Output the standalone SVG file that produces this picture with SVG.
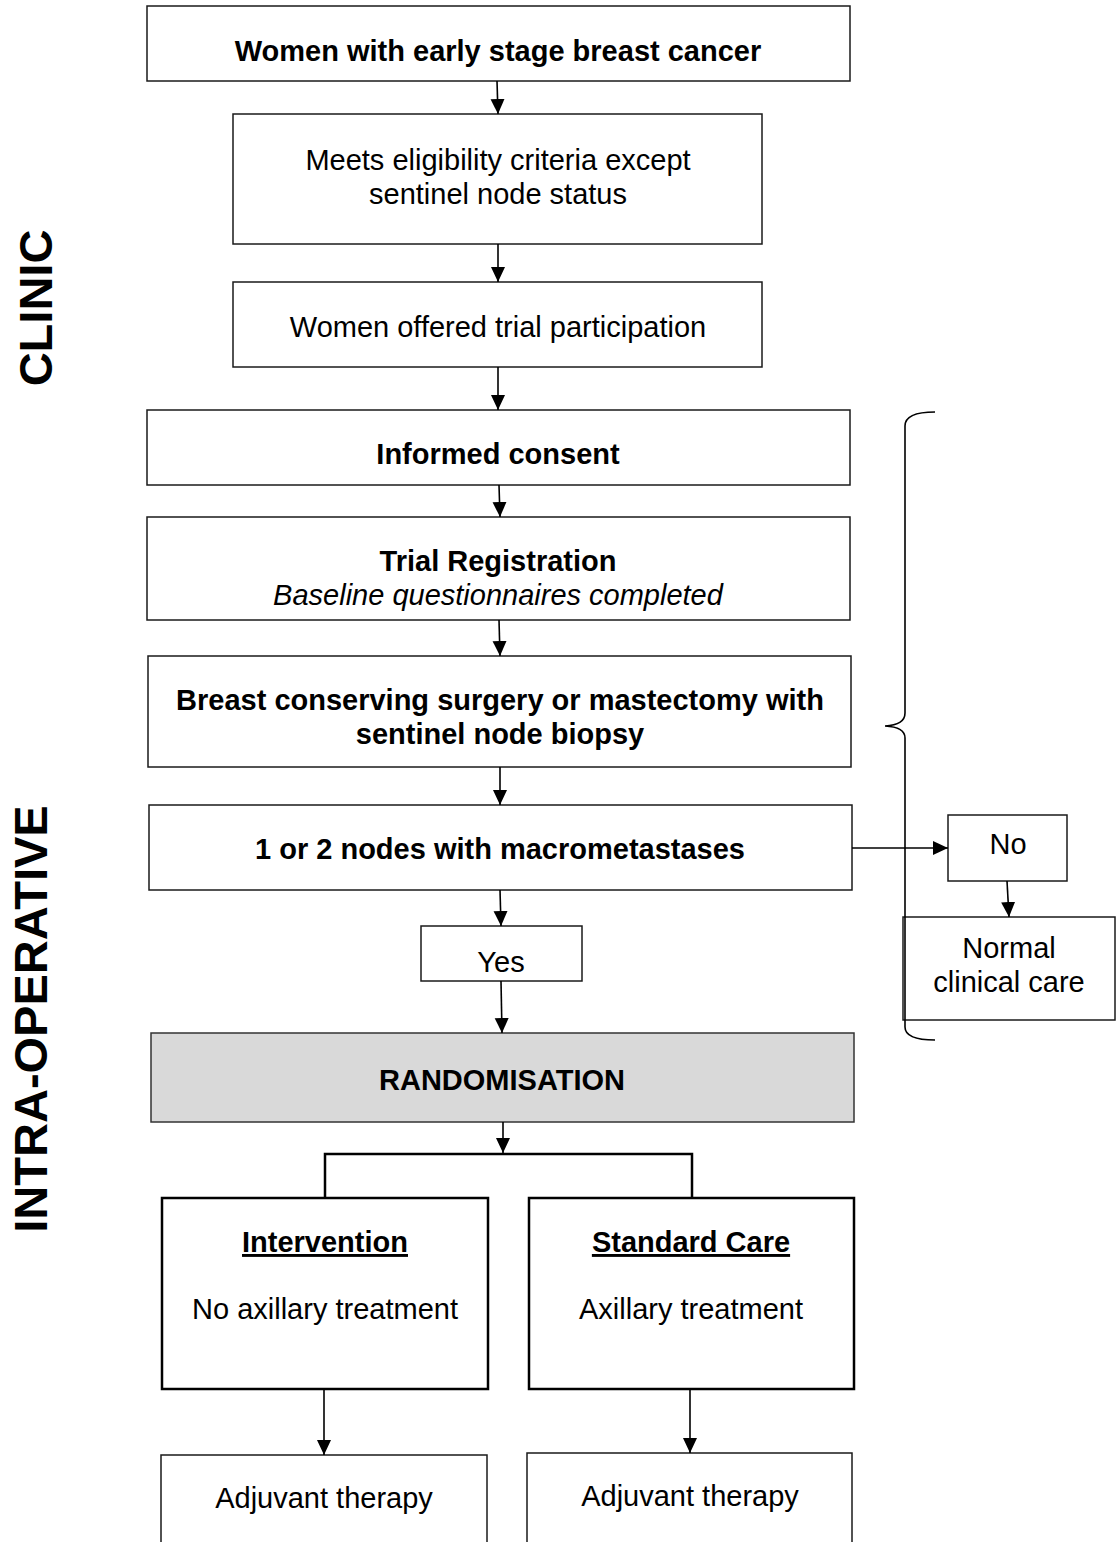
<svg xmlns="http://www.w3.org/2000/svg" width="1116" height="1542" viewBox="0 0 1116 1542">
<style>
  .box { fill: #ffffff; stroke: #1a1a1a; stroke-width: 1.5; }
  .thick { fill: #ffffff; stroke: #000000; stroke-width: 2.5; }
  .grey { fill: #d9d9d9; stroke: #333333; stroke-width: 1.5; }
  .t { font-family: "Liberation Sans", Arial, sans-serif; font-size: 29px; fill: #000000; text-anchor: middle; }
  .b { font-weight: bold; }
  .i { font-style: italic; }
  .u { text-decoration: underline; }
  .side { font-family: "Liberation Sans", Arial, sans-serif; font-size: 47px; font-weight: bold; fill: #000000; text-anchor: middle; }
  .conn { fill: none; stroke: #000000; stroke-width: 1.6; }
  .conn2 { fill: none; stroke: #000000; stroke-width: 2.5; }
</style>
<defs>
  <marker id="arr" markerUnits="userSpaceOnUse" markerWidth="16" markerHeight="15" refX="15" refY="7" orient="auto">
    <path d="M0,0 L15,7 L0,14 Z" fill="#000000"/>
  </marker>
</defs>

<g id="side-labels">
  <text class="side" transform="translate(52,308) rotate(-90)">CLINIC</text>
  <text class="side" transform="translate(47,1019) rotate(-90)">INTRA-OPERATIVE</text>
</g>

<g id="n1"><rect class="box" x="147" y="6" width="703" height="75"/>
  <text class="t b" x="498" y="61">Women with early stage breast cancer</text></g>
<g id="n2"><rect class="box" x="233" y="114" width="529" height="130"/>
  <text class="t" x="498" y="170">Meets eligibility criteria except</text>
  <text class="t" x="498" y="204">sentinel node status</text></g>
<g id="n3"><rect class="box" x="233" y="282" width="529" height="85"/>
  <text class="t" x="498" y="337">Women offered trial participation</text></g>
<g id="n4"><rect class="box" x="147" y="410" width="703" height="75"/>
  <text class="t b" x="498" y="464">Informed consent</text></g>
<g id="n5"><rect class="box" x="147" y="517" width="703" height="103"/>
  <text class="t b" x="498" y="571">Trial Registration</text>
  <text class="t i" x="498" y="605">Baseline questionnaires completed</text></g>
<g id="n6"><rect class="box" x="148" y="656" width="703" height="111"/>
  <text class="t b" x="500" y="710">Breast conserving surgery or mastectomy with</text>
  <text class="t b" x="500" y="744">sentinel node biopsy</text></g>
<g id="n7"><rect class="box" x="149" y="805" width="703" height="85"/>
  <text class="t b" x="500" y="859">1 or 2 nodes with macrometastases</text></g>
<g id="n-no"><rect class="box" x="948" y="815" width="119" height="66"/>
  <text class="t" x="1008" y="854">No</text></g>
<g id="n-normal"><rect class="box" x="903" y="917" width="212" height="103"/>
  <text class="t" x="1009" y="958">Normal</text>
  <text class="t" x="1009" y="992">clinical care</text></g>
<g id="n-yes"><rect class="box" x="421" y="926" width="161" height="55"/>
  <text class="t" x="501" y="972">Yes</text></g>
<g id="n-rand"><rect class="grey" x="151" y="1033" width="703" height="89"/>
  <text class="t b" x="502" y="1090">RANDOMISATION</text></g>
<g id="n-int"><rect class="thick" x="162" y="1198" width="326" height="191"/>
  <text class="t b u" x="325" y="1252">Intervention</text>
  <text class="t" x="325" y="1319">No axillary treatment</text></g>
<g id="n-std"><rect class="thick" x="529" y="1198" width="325" height="191"/>
  <text class="t b u" x="691" y="1252">Standard Care</text>
  <text class="t" x="691" y="1319">Axillary treatment</text></g>
<g id="n-adj1"><rect class="box" x="161" y="1455" width="326" height="120"/>
  <text class="t" x="324" y="1508">Adjuvant therapy</text></g>
<g id="n-adj2"><rect class="box" x="527" y="1453" width="325" height="120"/>
  <text class="t" x="690" y="1506">Adjuvant therapy</text></g>

<g id="brace">
  <path class="conn" d="M935,412 Q905,412 905,426 L905,713 Q905,725 885,726 Q905,727 905,738 L905,1027 Q905,1040 935,1040"/>
</g>

<g id="connectors">
  <line class="conn" x1="497" y1="81" x2="498" y2="114" marker-end="url(#arr)"/>
  <line class="conn" x1="498" y1="244" x2="498" y2="282" marker-end="url(#arr)"/>
  <line class="conn" x1="498" y1="367" x2="498" y2="410" marker-end="url(#arr)"/>
  <line class="conn" x1="499" y1="485" x2="500" y2="517" marker-end="url(#arr)"/>
  <line class="conn" x1="499" y1="620" x2="500" y2="656" marker-end="url(#arr)"/>
  <line class="conn" x1="500" y1="767" x2="500" y2="805" marker-end="url(#arr)"/>
  <line class="conn" x1="852" y1="848" x2="948" y2="848" marker-end="url(#arr)"/>
  <line class="conn" x1="1007" y1="881" x2="1009" y2="917" marker-end="url(#arr)"/>
  <line class="conn" x1="500" y1="890" x2="501" y2="926" marker-end="url(#arr)"/>
  <line class="conn" x1="501" y1="981" x2="502" y2="1033" marker-end="url(#arr)"/>
  <line class="conn" x1="503" y1="1122" x2="503" y2="1153" marker-end="url(#arr)"/>
  <path class="conn2" d="M325,1198 L325,1154 L692,1154 L692,1198"/>
  <line class="conn" x1="324" y1="1389" x2="324" y2="1455" marker-end="url(#arr)"/>
  <line class="conn" x1="690" y1="1389" x2="690" y2="1453" marker-end="url(#arr)"/>
</g>
</svg>
